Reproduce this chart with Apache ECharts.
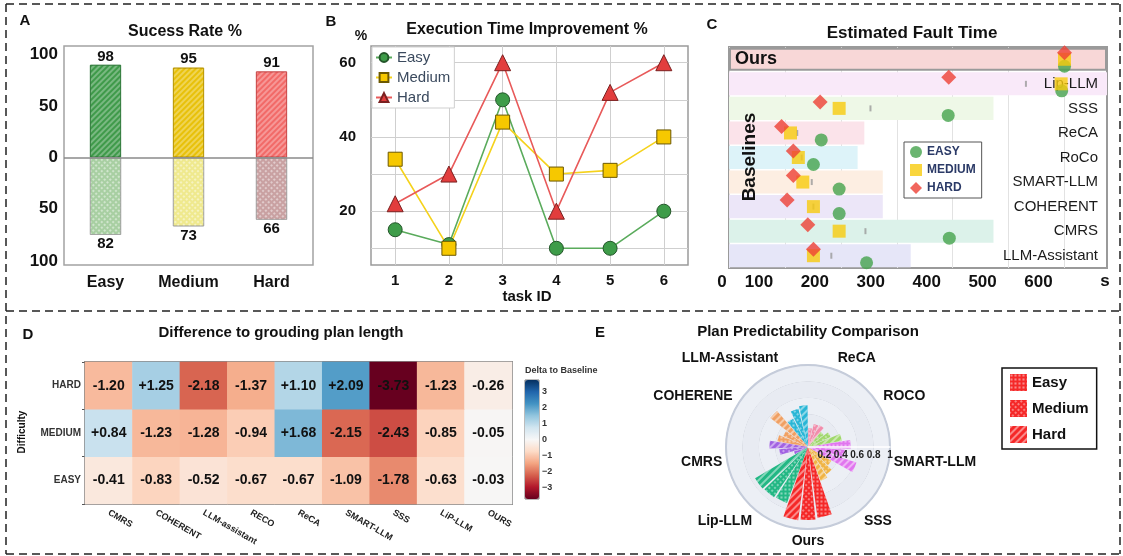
<!DOCTYPE html>
<html><head><meta charset="utf-8">
<script src="https://cdn.jsdelivr.net/npm/echarts@6/dist/echarts.min.js"></script>
<style>html,body{margin:0;padding:0;background:#fff}#c{width:1123px;height:556px}</style>
</head><body><div id="c"></div><script>
const FONT = '"Liberation Sans", Arial, Helvetica, sans-serif';

// ---------- Panel A : success rate ----------
const difficulties = ['Easy', 'Medium', 'Hard'];
const successTop = [98, 95, 91];
const successBottom = [82, 73, 66];
const successTickValues = [109, 54, 0, -54, -110];
const successTickLabels = ['100', '50', '0', '50', '100'];

// ---------- Panel B : execution time improvement ----------
const taskIds = [1, 2, 3, 4, 5, 6];
const execEasy = [15, 11, 50, 10, 10, 20];
const execMedium = [34, 10, 44, 30, 31, 40];
const execHard = [22, 30, 60, 20, 52, 60];
const execGridTicks = [10, 20, 30, 40, 50, 60];
const execLabelTicks = [20, 40, 60];

// ---------- Panel C : estimated fault time ----------
const faultMethods = ['Ours', 'Lip-LLM', 'SSS', 'ReCA', 'RoCo', 'SMART-LLM', 'COHERENT', 'CMRS', 'LLM-Assistant'];
const faultEasy = [600, 595, 392, 165, 151, 197, 197, 394, 246];
const faultMedium = [600, 594, 197, 110, 124, 132, 151, 197, 151];
const faultHard = [600, 393, 163, 94, 115, 115, 104, 141, 151];
const faultMean = [null, 531, 253, 122, 130, 148, 151, 244, 183];
const faultBand = [676, 676, 473, 242, 230, 275, 275, 473, 325];
const faultTicks = [0, 100, 200, 300, 400, 500, 600];

// ---------- Panel D : difference to grounding plan length ----------
const planMethods = ['CMRS', 'COHERENT', 'LLM-assistant', 'RECO', 'ReCA', 'SMART-LLM', 'SSS', 'LiP-LLM', 'OURS'];
const planLevels = ['EASY', 'MEDIUM', 'HARD'];
const planEasy = [-0.41, -0.83, -0.52, -0.67, -0.67, -1.09, -1.78, -0.63, -0.03];
const planMedium = [0.84, -1.23, -1.28, -0.94, 1.68, -2.15, -2.43, -0.85, -0.05];
const planHard = [-1.20, 1.25, -2.18, -1.37, 1.10, 2.09, -3.73, -1.23, -0.26];
const colorbarTicks = [-3, -2, -1, 0, 1, 2, 3];

// ---------- Panel E : plan predictability ----------
const predMethods = ['Ours', 'SSS', 'SMART-LLM', 'ROCO', 'ReCA', 'LLM-Assistant', 'COHERENE', 'CMRS', 'Lip-LLM'];
const predEasy = [0.87, 0.33, 0.52, 0.24, 0.23, 0.39, 0.38, 0.18, 0.73];
const predMedium = [0.89, 0.40, 0.45, 0.30, 0.29, 0.48, 0.33, 0.35, 0.74];
const predHard = [0.90, 0.44, 0.62, 0.42, 0.30, 0.51, 0.58, 0.47, 0.75];
const radialTicks = [0.2, 0.4, 0.6, 0.8, 1];

// ---------- styles ----------
const topColors = ['#3f9a4a', '#e8c10a', '#f26a68'];
const topBorders = ['#2f7a3a', '#b89600', '#c84848'];
const bottomColors = ['#a8cfa2', '#efe98e', '#c9a1a2'];
const bandColors = ['#f8d7d7', '#f9e9f9', '#eef8e7', '#fbe3ea', '#ddf3f9', '#fdeee2', '#ece6f8', '#dcf2ea', '#e6e6f8'];
const predColors = ['#f52828', '#f0b445', '#e176ef', '#a0d86c', '#f28cab', '#29b6d6', '#f0a063', '#a262e2', '#22b784'];
const RdBu = ['#67001f', '#b2182b', '#d6604d', '#f4a582', '#fddbc7', '#f7f7f7', '#d1e5f0', '#92c5de', '#4393c3', '#2166ac', '#053061'];

const stripe = {symbol: 'rect', symbolSize: 1, color: 'rgba(255,255,255,0.30)', dashArrayX: [1, 0], dashArrayY: [2, 2], rotation: -Math.PI / 4};
const checker = {symbol: 'rect', symbolSize: 1, color: 'rgba(255,255,255,0.45)', dashArrayX: [2, 2], dashArrayY: [2, 2], rotation: Math.PI / 4};
const decalEasy = {symbol: 'rect', symbolSize: 0.7, color: 'rgba(255,255,255,0.45)', dashArrayX: [3, 1], dashArrayY: [3, 1]};
const decalMedium = {symbol: 'rect', symbolSize: 1, color: 'rgba(255,255,255,0.40)', dashArrayX: [2, 2], dashArrayY: [2, 2], rotation: Math.PI / 4};
const decalHard = {symbol: 'rect', symbolSize: 1, color: 'rgba(255,255,255,0.45)', dashArrayX: [1, 0], dashArrayY: [2, 3], rotation: -Math.PI / 4};

const bold = (size, color) => ({fontFamily: FONT, fontWeight: 'bold', fontSize: size, color: color || '#111'});

function txt(x, y, text, size, extra) {
  return Object.assign({
    type: 'text', x: x, y: y, z: 100,
    style: {text: text, font: 'bold ' + size + 'px ' + FONT, fill: '#111', align: 'center', verticalAlign: 'middle'}
  }, extra || {});
}
const dash = {stroke: '#222', lineWidth: 1.5, lineDash: [8, 5]};
function dline(x1, y1, x2, y2) { return {type: 'line', z: 100, shape: {x1, y1, x2, y2}, style: dash}; }

const chart = echarts.init(document.getElementById('c'), null, {renderer: 'canvas'});

const option = {
  animation: false,
  backgroundColor: '#fff',
  textStyle: {fontFamily: FONT},
  grid: [
    {left: 64, top: 46, width: 249, height: 219, show: true, borderColor: '#a3a3a3', borderWidth: 1.5, backgroundColor: 'transparent'},
    {left: 371, top: 46, width: 317, height: 219, show: true, borderColor: '#9a9a9a', borderWidth: 1.5, backgroundColor: 'transparent'},
    {left: 729, top: 47, width: 378, height: 221, show: true, borderColor: '#9a9a9a', borderWidth: 2, backgroundColor: 'transparent'},
    {left: 85, top: 362, width: 427, height: 142, show: true, borderColor: '#8a8a8a', borderWidth: 2, backgroundColor: 'transparent'},
    {left: 525, top: 380, width: 14, height: 119, show: true, borderColor: '#555', borderWidth: 0.8, backgroundColor: 'transparent'}
  ],
  xAxis: [
    {gridIndex: 0, type: 'category', data: difficulties, axisLine: {show: false}, axisTick: {show: false},
     axisLabel: Object.assign(bold(16), {margin: 10})},
    {gridIndex: 1, type: 'value', min: 0.55, max: 6.45, axisLine: {show: false},
     axisTick: {show: false, customValues: taskIds},
     axisLabel: Object.assign(bold(15), {margin: 8, customValues: taskIds}),
     splitLine: {show: true, lineStyle: {color: '#cfcfcf', width: 1}}},
    {gridIndex: 2, type: 'value', min: 0, max: 676, axisLine: {show: false},
     axisTick: {show: false, customValues: faultTicks},
     axisLabel: {margin: 6, customValues: faultTicks,
       formatter: v => v === 0 ? '{z|0}' : '{n|' + v + '}',
       rich: {n: Object.assign(bold(17), {padding: [0, 52, 0, 0]}), z: Object.assign(bold(17), {padding: [0, 14, 0, 0]})}},
     splitLine: {show: true, lineStyle: {color: '#e2e2e2', width: 1}}},
    {gridIndex: 3, type: 'category', data: planMethods, axisLine: {show: false}, axisTick: {show: false},
     axisLabel: Object.assign(bold(9, '#222'), {rotate: -30, margin: 8, interval: 0})},
    {gridIndex: 4, type: 'value', show: false, min: 0, max: 1}
  ],
  yAxis: [
    {gridIndex: 0, type: 'value', min: -114, max: 118, axisLine: {show: false}, axisTick: {show: false},
     splitLine: {show: false},
     axisLabel: Object.assign(bold(17), {margin: 6, customValues: successTickValues,
       formatter: v => successTickLabels[successTickValues.indexOf(v)]})},
    {gridIndex: 1, type: 'value', min: 5.5, max: 64.5, axisLine: {show: false},
     axisTick: {show: false, customValues: execGridTicks},
     axisLabel: Object.assign(bold(15), {margin: 15, customValues: execLabelTicks}),
     splitLine: {show: true, lineStyle: {color: '#cfcfcf', width: 1}}},
    {gridIndex: 2, type: 'category', data: faultMethods, inverse: true, position: 'right', z: 10,
     axisLine: {show: false}, axisTick: {show: false}, splitLine: {show: false},
     axisLabel: {inside: true, margin: 9, fontSize: 15, color: '#1b1b1b', fontFamily: FONT, interval: 0,
       formatter: v => v === 'Ours' ? '' : v}},
    {gridIndex: 3, type: 'category', data: planLevels, axisLine: {show: false},
     axisTick: {show: true, length: 3, lineStyle: {color: '#555'}},
     axisLabel: Object.assign(bold(10, '#333'), {margin: 4})},
    {gridIndex: 4, type: 'value', position: 'right', min: -3.73, max: 3.73,
     axisLine: {show: false},
     axisTick: {show: true, length: 3, customValues: colorbarTicks, lineStyle: {color: '#333'}},
     splitLine: {show: false},
     axisLabel: Object.assign(bold(9, '#333'), {margin: 3, customValues: colorbarTicks,
       formatter: v => (v < 0 ? '\u2212' + Math.abs(v) : String(v))})}
  ],
  polar: [
    {center: [808, 447], radius: 82},
    {center: [808, 447], radius: 82}
  ],
  angleAxis: [
    {polarIndex: 0, type: 'category', data: predMethods, startAngle: 250, clockwise: false,
     axisLine: {show: true, lineStyle: {color: '#c5ccda', width: 2}}, axisTick: {show: false},
     splitLine: {show: false},
     axisLabel: Object.assign(bold(14), {margin: 5, interval: 0})},
    {polarIndex: 1, type: 'value', min: 0, max: 360, startAngle: 0, clockwise: false,
     axisLine: {show: false}, axisTick: {show: false}, axisLabel: {show: false}, splitLine: {show: false}}
  ],
  radiusAxis: [
    {polarIndex: 0, type: 'value', min: 0, max: 1, interval: 0.2,
     axisLine: {show: false}, axisTick: {show: false}, axisLabel: {show: false},
     splitLine: {show: true, lineStyle: {color: '#b3b8c3', width: 1}},
     splitArea: {show: true, areaStyle: {color: ['#eceff5', '#e8ebf2']}}},
    {polarIndex: 1, type: 'value', min: 0, max: 1, z: 10,
     axisLine: {show: true, lineStyle: {color: '#ffffff', width: 1.5}}, axisTick: {show: false},
     splitLine: {show: false},
     axisLabel: Object.assign(bold(10, '#222'), {margin: -3, verticalAlign: 'top', customValues: radialTicks})}
  ],
  legend: [
    {data: ['Easy', 'Medium', 'Hard'], left: 372, top: 47, orient: 'vertical', itemGap: 5,
     itemWidth: 16, itemHeight: 11, textStyle: {fontSize: 15, color: '#3b4a5e', fontFamily: FONT},
     backgroundColor: '#fff', borderColor: '#cfcfcf', borderWidth: 1, padding: [3, 4, 3, 3]},
    {data: ['EASY', 'MEDIUM', 'HARD'], left: 904, top: 142, orient: 'vertical', itemGap: 6,
     itemWidth: 12, itemHeight: 12, textStyle: bold(12, '#2b3a67'),
     backgroundColor: '#fff', borderColor: '#555', borderWidth: 1, padding: [4, 6, 4, 6]},
    {data: ['pEasy', 'pMedium', 'pHard'], left: 1002, top: 368, orient: 'vertical', itemGap: 9,
     itemWidth: 17, itemHeight: 17, icon: 'rect', formatter: n => n.slice(1),
     textStyle: bold(15), backgroundColor: '#fff', borderColor: '#111', borderWidth: 1.5, padding: [6, 8, 6, 8]}
  ],
  visualMap: [
    {type: 'continuous', min: -3.73, max: 3.73, seriesIndex: 11, dimension: 2, left: 525, top: 380,
     itemWidth: 14, itemHeight: 119, calculable: false, padding: 0, text: null, showLabel: false,
     inRange: {color: RdBu}}
  ],
  series: [
    // 0,1 : panel A
    {type: 'bar', name: 'successTop', xAxisIndex: 0, yAxisIndex: 0, stack: 'A', barWidth: 31,
     data: successTop.map((v, i) => ({value: v, itemStyle: {color: topColors[i], borderColor: topBorders[i], borderWidth: 0.8, decal: stripe}})),
     label: Object.assign({show: true, position: 'top', distance: 1}, bold(15)),
     markLine: {silent: true, symbol: 'none', label: {show: false}, lineStyle: {color: '#8a8a8a', width: 1.5, type: 'solid'}, data: [{yAxis: 0}]}},
    {type: 'bar', name: 'successBottom', xAxisIndex: 0, yAxisIndex: 0, stack: 'A', barWidth: 31,
     data: successBottom.map((v, i) => ({value: -v, itemStyle: {color: bottomColors[i], borderColor: '#9a9a9a', borderWidth: 0.6, decal: checker}})),
     label: Object.assign({show: true, position: 'bottom', distance: 2, formatter: p => Math.abs(p.value)}, bold(15))},
    // 2,3,4 : panel B
    {type: 'line', name: 'Easy', xAxisIndex: 1, yAxisIndex: 1, data: taskIds.map((t, i) => [t, execEasy[i]]),
     symbol: 'circle', symbolSize: 14, lineStyle: {color: '#5aab5c', width: 1.6},
     itemStyle: {color: '#3e9c49', borderColor: '#24562a', borderWidth: 1}},
    {type: 'line', name: 'Medium', xAxisIndex: 1, yAxisIndex: 1, data: taskIds.map((t, i) => [t, execMedium[i]]),
     symbol: 'rect', symbolSize: 14, lineStyle: {color: '#f5d21c', width: 1.6},
     itemStyle: {color: '#f6c800', borderColor: '#6c5800', borderWidth: 1}},
    {type: 'line', name: 'Hard', xAxisIndex: 1, yAxisIndex: 1, data: taskIds.map((t, i) => [t, execHard[i]]),
     symbol: 'triangle', symbolSize: 16, lineStyle: {color: '#e85a5a', width: 1.6},
     itemStyle: {color: '#e23d3d', borderColor: '#7a2020', borderWidth: 1}},
    // 5 : panel C bands
    {type: 'bar', name: 'band', xAxisIndex: 2, yAxisIndex: 2, barCategoryGap: '6%', z: 1,
     data: faultBand.map((v, i) => i === 0
       ? {value: v, itemStyle: {color: bandColors[i], borderColor: '#9a9a9a', borderWidth: 2},
          label: Object.assign({show: true, position: 'insideLeft', distance: 6, formatter: 'Ours'}, bold(18))}
       : {value: v, itemStyle: {color: bandColors[i]}})},
    // 6 : mean ticks
    {type: 'scatter', name: 'mean', xAxisIndex: 2, yAxisIndex: 2, symbol: 'rect', symbolSize: [2, 6], z: 3,
     itemStyle: {color: '#9a9a9a'},
     data: faultMean.map((v, i) => v === null ? null : [v, i]).filter(d => d)},
    // 7,8,9 : markers
    {type: 'scatter', name: 'EASY', xAxisIndex: 2, yAxisIndex: 2, symbol: 'circle', symbolSize: 13, symbolOffset: [0, 7], z: 11,
     itemStyle: {color: '#45a24c'}, data: faultEasy.map((v, i) => [v, i])},
    {type: 'scatter', name: 'MEDIUM', xAxisIndex: 2, yAxisIndex: 2, symbol: 'rect', symbolSize: 13, symbolOffset: [0, 0], z: 12,
     itemStyle: {color: '#f7cb0c'}, data: faultMedium.map((v, i) => [v, i])},
    {type: 'scatter', name: 'HARD', xAxisIndex: 2, yAxisIndex: 2, symbol: 'diamond', symbolSize: 15, symbolOffset: [0, -6.5], z: 13,
     itemStyle: {color: '#ee4034'}, data: faultHard.map((v, i) => [v, i])},
    // 10 : dummy for colorbar grid
    {type: 'scatter', name: 'cbar', xAxisIndex: 4, yAxisIndex: 4, data: [], silent: true},
    // 11 : heatmap
    {type: 'heatmap', name: 'plan', xAxisIndex: 3, yAxisIndex: 3,
     data: [].concat(
       planEasy.map((v, i) => [i, 0, v]),
       planMedium.map((v, i) => [i, 1, v]),
       planHard.map((v, i) => [i, 2, v])),
     label: Object.assign({show: true, formatter: p => (p.value[2] > 0 ? '+' : '') + p.value[2].toFixed(2)}, bold(14, '#111'))},
    // 12,13,14 : polar bars
    {type: 'bar', name: 'pEasy', coordinateSystem: 'polar', polarIndex: 0, barGap: '15%', barCategoryGap: '3%',
     itemStyle: {color: '#f52828', decal: decalEasy},
     data: predEasy.map((v, i) => ({value: v, itemStyle: {color: predColors[i], decal: decalEasy}}))},
    {type: 'bar', name: 'pMedium', coordinateSystem: 'polar', polarIndex: 0, barGap: '15%', barCategoryGap: '3%',
     itemStyle: {color: '#f52828', decal: decalMedium},
     data: predMedium.map((v, i) => ({value: v, itemStyle: {color: predColors[i], decal: decalMedium}}))},
    {type: 'bar', name: 'pHard', coordinateSystem: 'polar', polarIndex: 0, barGap: '15%', barCategoryGap: '3%',
     itemStyle: {color: '#f52828', decal: decalHard},
     data: predHard.map((v, i) => ({value: v, itemStyle: {color: predColors[i], decal: decalHard}}))}
  ],
  graphic: [
    dline(6, 4, 1120, 4), dline(6, 311, 1120, 311), dline(6, 554, 1120, 554),
    dline(6, 4, 6, 554), dline(1120, 4, 1120, 554),
    txt(25, 21, 'A', 15), txt(331, 22, 'B', 15), txt(712, 25, 'C', 15), txt(28, 335, 'D', 15), txt(600, 333, 'E', 15),
    txt(185, 32, 'Sucess Rate %', 16),
    txt(527, 30, 'Execution Time Improvement %', 16),
    txt(361, 36, '%', 14),
    txt(527, 297, 'task ID', 15),
    txt(912, 33, 'Estimated Fault Time', 17),
    txt(1105, 281, 's', 17),
    txt(750, 157, 'Baselines', 19, {rotation: Math.PI / 2}),
    txt(281, 333, 'Difference to grouding plan length', 15),
    txt(22, 432, 'Difficulty', 10, {rotation: Math.PI / 2}),
    {type: 'text', x: 525, y: 371, z: 100, style: {text: 'Delta to Baseline', font: 'bold 9px ' + FONT, fill: '#333', align: 'left', verticalAlign: 'middle'}},
    txt(808, 332, 'Plan Predictability Comparison', 15)
  ]
};
chart.setOption(option);
</script></body></html>
